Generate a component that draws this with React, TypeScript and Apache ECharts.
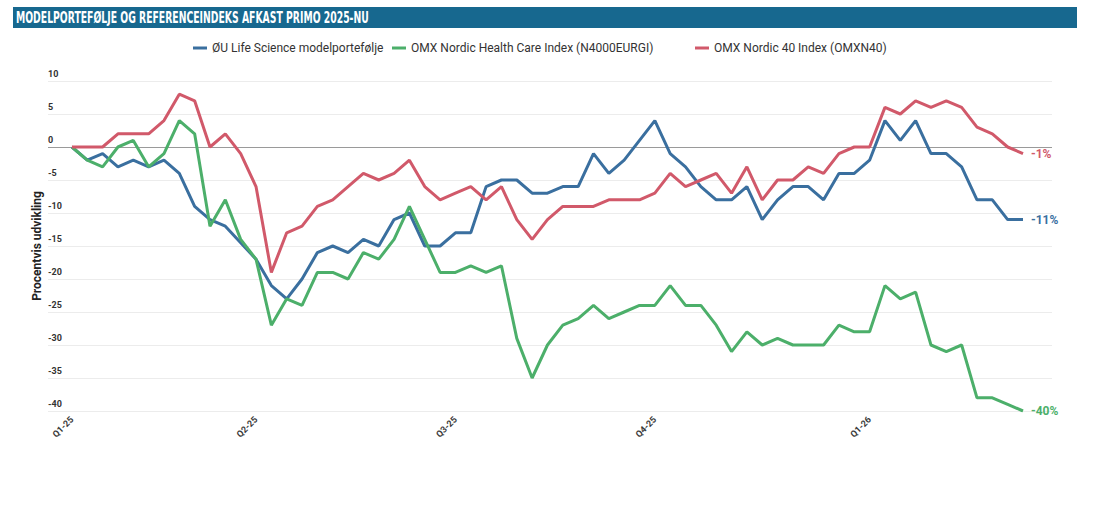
import React, { useEffect, useRef } from "react";
import * as echarts from "echarts";

const titleText = "MODELPORTEFØLJE OG REFERENCEINDEKS AFKAST PRIMO 2025-NU";
const seriesNames = [
  "ØU Life Science modelportefølje",
  "OMX Nordic Health Care Index (N4000EURGI)",
  "OMX Nordic 40 Index (OMXN40)",
];
const seriesColors = ["#3a6f9f", "#4caf6a", "#d1596a"];
const quarterLabels = ["Q1-25", "Q2-25", "Q3-25", "Q4-25", "Q1-26"];
const quarterIndex = [0, 12, 25, 38, 52];
const yTicks = { min: -40, max: 10, step: 5 };

const lifeScience = [
  0, -2, -1, -3, -2, -3, -2, -4, -9, -11, -12, -14.5, -17, -21,
  -23, -20, -16, -15, -16, -14, -15, -11, -10, -15, -15, -13, -13, -6, -5, -5, -7, -7,
  -6, -6, -1, -4, -2, 1, 4, -1, -3, -6, -8, -8, -6, -11, -8, -6, -6, -8,
  -4, -4, -2, 4, 1, 4, -1, -1, -3, -8, -8, -11, -11,
];
const healthCare = [
  0, -2, -3, 0, 1, -3, -1, 4, 2, -12, -8, -14, -17, -27,
  -23, -24, -19, -19, -20, -16, -17, -14, -9, -14, -19, -19, -18, -19, -18, -29, -35, -30,
  -27, -26, -24, -26, -25, -24, -24, -21, -24, -24, -27, -31, -28, -30, -29, -30, -30, -30,
  -27, -28, -28, -21, -23, -22, -30, -31, -30, -38, -38, -39, -40,
];
const nordic40 = [
  0, 0, 0, 2, 2, 2, 4, 8, 7, 0, 2, -1, -6, -19,
  -13, -12, -9, -8, -6, -4, -5, -4, -2, -6, -8, -7, -6, -8, -6, -11, -14, -11,
  -9, -9, -9, -8, -8, -8, -7, -4, -6, -5, -4, -7, -3, -8, -5, -5, -3, -4,
  -1, 0, 0, 6, 5, 7, 6, 7, 6, 3, 2, 0, -1,
];

const allSeries = [lifeScience, healthCare, nordic40];
const FONT = "Roboto, 'Noto Sans', sans-serif";
const legendLefts = [188, 387, 690];

export default function App() {
  const ref = useRef<HTMLDivElement>(null);

  useEffect(() => {
    document.body.style.margin = "0";
    const chart = echarts.init(ref.current!, undefined, { renderer: "svg" });
    const option: any = {
      animation: false,
      backgroundColor: "#ffffff",
      textStyle: { fontFamily: FONT },
      graphic: [
        {
          type: "rect",
          left: 13,
          top: 7,
          shape: { width: 1064, height: 21 },
          style: { fill: "#17688f" },
        },
        {
          type: "text",
          x: 16,
          y: 18,
          scaleX: 0.645,
          style: {
            text: titleText,
            fill: "#ffffff",
            font: "bold 16px 'Liberation Sans Narrow', 'DejaVu Sans Condensed', sans-serif",
            verticalAlign: "middle",
          },
        },
      ],
      legend: seriesNames.map((n, i) => ({
        left: legendLefts[i],
        top: 37,
        icon: "rect",
        itemWidth: 14,
        itemHeight: 3,
        textStyle: { fontSize: 12, color: "#333", fontFamily: FONT },
        data: [n],
      })),
      grid: { left: 48, right: 48, top: 81, bottom: 100 },
      xAxis: {
        type: "value",
        min: -1.56,
        max: 63.89,
        axisLine: { show: false },
        axisTick: { show: false },
        splitLine: { show: false },
        axisLabel: {
          customValues: quarterIndex,
          rotate: 45,
          margin: 7,
          fontSize: 9,
          fontWeight: "bold",
          color: "#3a3a3a",
          fontFamily: FONT,
          formatter: (v: number) => {
            const k = quarterIndex.indexOf(Math.round(v));
            return k >= 0 ? quarterLabels[k] : "";
          },
        },
      },
      yAxis: {
        type: "value",
        min: yTicks.min,
        max: yTicks.max,
        interval: yTicks.step,
        name: "Procentvis udvikling",
        nameLocation: "middle",
        nameRotate: 90,
        nameGap: 5,
        nameMoveOverlap: false,
        nameTextStyle: { fontSize: 12, fontWeight: "bold", color: "#222", fontFamily: FONT },
        axisLine: { show: false },
        axisTick: { show: false },
        splitLine: { lineStyle: { color: "#ececec", width: 1 } },
        axisLabel: {
          inside: true,
          margin: 0,
          align: "left",
          verticalAlign: "bottom",
          padding: [0, 0, 3, 0],
          fontSize: 9,
          fontWeight: "bold",
          color: "#333",
          fontFamily: FONT,
        },
      },
      series: allSeries.map((arr, si) => ({
        name: seriesNames[si],
        type: "line",
        data: arr.map((v, i) => [i, v]),
        symbol: "none",
        lineStyle: { width: 3, color: seriesColors[si] },
        itemStyle: { color: seriesColors[si] },
        z: 3 + si,
        endLabel: {
          show: true,
          distance: 8,
          formatter: (p: any) => `${p.value[1]}%`,
          color: seriesColors[si],
          fontSize: 12,
          fontWeight: "bold",
          fontFamily: FONT,
        },
        markLine:
          si === 0
            ? {
                silent: true,
                symbol: "none",
                z: 1,
                label: { show: false },
                lineStyle: { color: "#9a9a9a", width: 1, type: "solid" },
                data: [{ yAxis: 0 }],
              }
            : undefined,
      })),
    };
    chart.setOption(option);
    return () => chart.dispose();
  }, []);

  return <div ref={ref} style={{ width: 1100, height: 511 }} />;
}
